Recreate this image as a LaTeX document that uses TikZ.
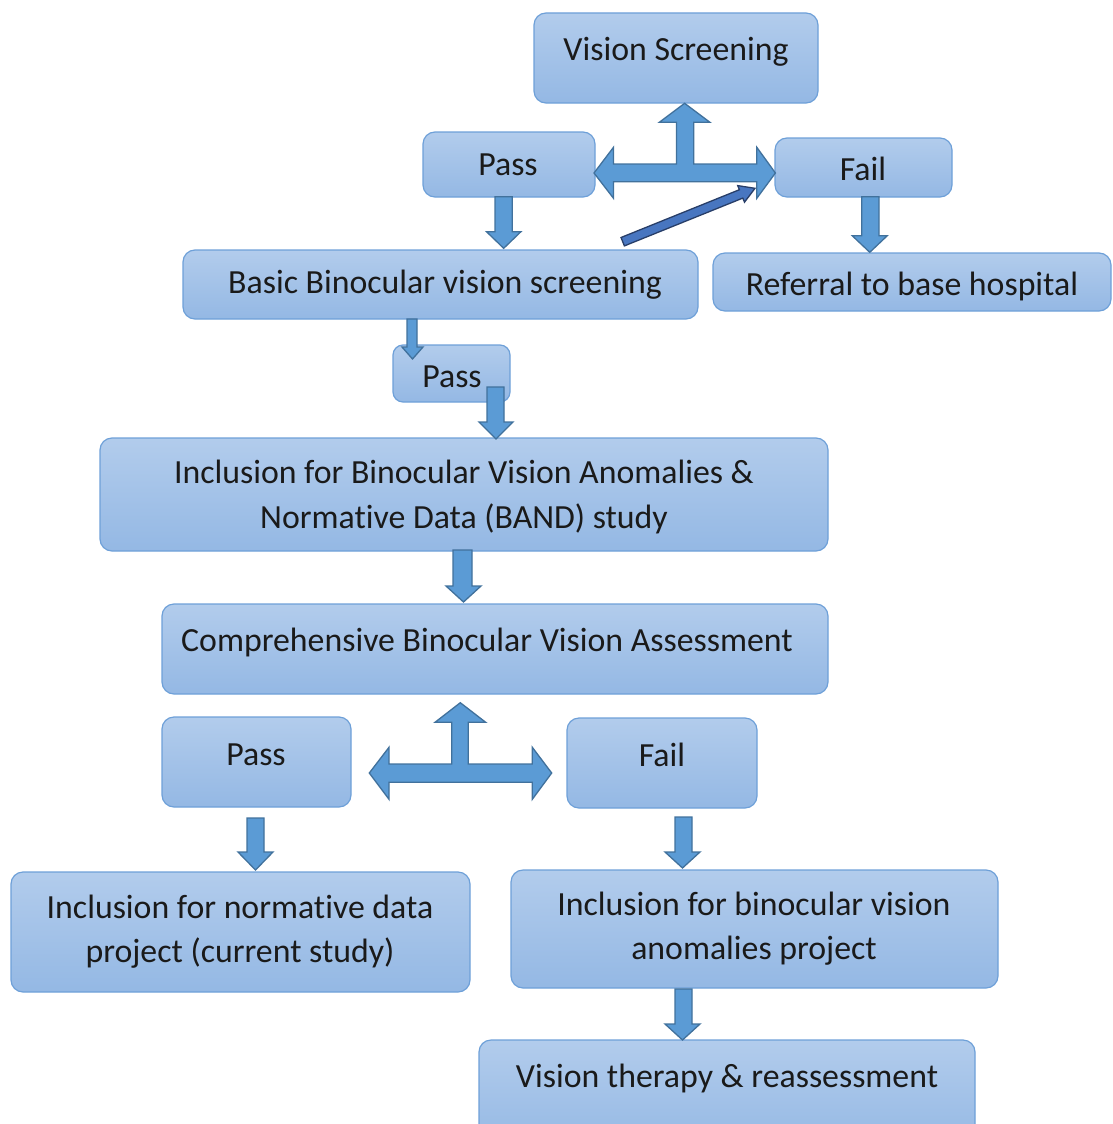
\documentclass[tikz,border=0pt]{standalone}
\usepackage{fontspec}
\setmainfont{Carlito}[RawFeature={-liga;-clig;-dlig}]
\definecolor{boxtop}{RGB}{178,204,236}
\definecolor{boxbot}{RGB}{148,184,228}
\definecolor{boxline}{RGB}{110,160,216}
\definecolor{arrfill}{RGB}{91,155,213}
\definecolor{arrline}{RGB}{65,113,156}
\definecolor{diagfill}{RGB}{72,118,192}
\definecolor{diagline}{RGB}{40,62,104}
\definecolor{txtcol}{RGB}{26,26,26}
\newcommand\dnarr[7]{\draw[blk] (#1,#5) -- (#2,#5) -- (#2,#6) -- (#4,#6) -- ({(#3+#4)/2},#7) -- (#3,#6) -- (#1,#6) -- cycle;}
\begin{document}
\begin{tikzpicture}[x=1pt,y=-1pt,
  box/.style={rectangle, rounded corners=12pt, draw=boxline, line width=1.2pt,
    top color=boxtop, bottom color=boxbot, inner sep=0pt},
  lbl/.style={anchor=base, inner sep=0pt, text=txtcol, font=\fontsize{33.8}{45}\selectfont},
  blk/.style={fill=arrfill, draw=arrline, line width=1.3pt, line join=miter},
  thin/.style={fill=diagfill, draw=diagline, line width=1.3pt, line join=miter}]
\useasboundingbox (0,0) rectangle (1112,1124);
\clip (0,0) rectangle (1112,1124);
% boxes
\node[box, minimum width=284pt, minimum height=90pt] (vs) at (676,58) {};
\node[box, minimum width=172pt, minimum height=65pt] (passA) at (509,164.5) {};
\node[box, minimum width=177pt, minimum height=59pt] (failA) at (863.5,167.5) {};
\node[box, minimum width=515pt, minimum height=69pt] (basic) at (440.5,284.5) {};
\node[box, minimum width=398pt, minimum height=58pt] (ref) at (912,282) {};
\node[box, rounded corners=10pt, minimum width=117pt, minimum height=57pt] (passS) at (451.5,373.5) {};
\node[box, minimum width=728pt, minimum height=113pt] (band) at (464,494.5) {};
\node[box, minimum width=666pt, minimum height=90pt] (comp) at (495,649) {};
\node[box, minimum width=189pt, minimum height=90pt] (passB) at (256.5,762) {};
\node[box, minimum width=190pt, minimum height=90pt] (failB) at (662,763) {};
\node[box, minimum width=459pt, minimum height=120pt] (norm) at (240.5,932) {};
\node[box, minimum width=487pt, minimum height=118pt] (binoc) at (754.5,929) {};
\node[box, minimum width=496pt, minimum height=110pt] (vt) at (727,1095) {};
% labels
\node[lbl] (vsT) at (676,61) {Vision Screening};
\node[lbl] (passAT) at (508,175) {Pass};
\node[lbl] (failAT) at (863,180) {Fail};
\node[lbl] (basicT) at (445,293) {Basic Binocular vision screening};
\node[lbl] (refT) at (912,295) {Referral to base hospital};
\node[lbl] (passST) at (452,387) {Pass};
\node[lbl] (bandT1) at (464,483) {Inclusion for Binocular Vision Anomalies \&};
\node[lbl] (bandT2) at (464,528) {Normative Data (BAND) study};
\node[lbl] (compT) at (487,651) {Comprehensive Binocular Vision Assessment};
\node[lbl] (passBT) at (256,765) {Pass};
\node[lbl] (failBT) at (662,766) {Fail};
\node[lbl] (normT1) at (240,918) {Inclusion for normative data};
\node[lbl] (normT2) at (240,962) {project (current study)};
\node[lbl] (binocT1) at (754,915) {Inclusion for binocular vision};
\node[lbl] (binocT2) at (754,959) {anomalies project};
\node[lbl] (vtT) at (727,1087) {Vision therapy \& reassessment};
% top T arrow
\draw[blk] (594,173) -- (613.5,147.3) -- (613.5,164) -- (676.5,164) -- (676.5,122.3)
  -- (659.3,122.3) -- (684.6,103.3) -- (709.9,122.3) -- (693.8,122.3) -- (693.8,164)
  -- (756.8,164) -- (756.8,147.3) -- (775.4,173) -- (756.8,198.3) -- (756.8,181.7)
  -- (613.5,181.7) -- (613.5,198.3) -- cycle;
% diagonal arrow
\draw[thin] (624.4,245.9) -- (742.8,198.1) -- (744.5,202.2) -- (755,188.3)
  -- (737.7,185.6) -- (739.4,189.7) -- (621.0,237.5) -- cycle;
% down arrows
\dnarr{495}{512.3}{486.5}{520.9}{196.7}{231.7}{248.3}
\dnarr{861.8}{879}{852.2}{887.3}{196.7}{235.7}{252.3}
\dnarr{407}{417}{402}{423}{319}{347}{359}
\dnarr{487}{504}{479}{513}{387}{422}{439}
\dnarr{453}{472}{446}{481}{550}{586}{602}
\dnarr{247}{264}{238}{273}{818}{852}{870}
\dnarr{675}{692}{665}{700}{817}{852}{868}
\dnarr{675}{692}{665}{700}{989}{1024}{1040}
% bottom T arrow
\draw[blk] (369.3,773) -- (389,747.3) -- (389,764) -- (451.7,764) -- (451.7,722.3)
  -- (435,722.3) -- (460.3,702.7) -- (485.7,722.3) -- (468.3,722.3) -- (468.3,764)
  -- (532.3,764) -- (532.3,747.3) -- (551.7,773) -- (532.3,799.3) -- (532.3,782.3)
  -- (389,782.3) -- (389,799.3) -- cycle;
\end{tikzpicture}
\end{document}
